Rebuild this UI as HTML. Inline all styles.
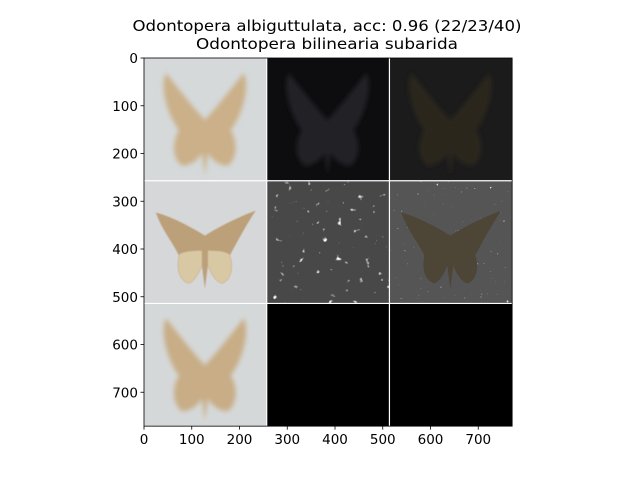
<!DOCTYPE html>
<html><head><meta charset="utf-8"><style>
body{margin:0;background:#fff;}
svg text{font-family:"DejaVu Sans","Liberation Sans",sans-serif;}
</style></head><body>
<svg id="chart" width="640" height="480" viewBox="0 0 640 480">
<defs>
<filter id="blur3" x="-20%" y="-20%" width="140%" height="140%"><feGaussianBlur stdDeviation="2.5"/></filter>
<filter id="blur1"><feGaussianBlur stdDeviation="0.6"/></filter>
<filter id="noise2" x="0" y="0" width="100%" height="100%"><feTurbulence type="fractalNoise" baseFrequency="0.14" numOctaves="2" seed="7"/><feColorMatrix type="matrix" values="0 0 0 0 1  0 0 0 0 1  0 0 0 0 1  7 0 0 0 -4.9"/></filter>
<filter id="noise3" x="0" y="0" width="100%" height="100%"><feTurbulence type="fractalNoise" baseFrequency="0.3" numOctaves="2" seed="11"/><feColorMatrix type="matrix" values="0 0 0 0 0.9  0 0 0 0 0.9  0 0 0 0 0.9  8 0 0 0 -6.2"/></filter>
</defs>
<text x="327" y="31" text-anchor="middle" font-size="15.5" textLength="389" lengthAdjust="spacingAndGlyphs">Odontopera albiguttulata, acc: 0.96 (22/23/40)</text>
<text x="327" y="49" text-anchor="middle" font-size="15.5" textLength="262" lengthAdjust="spacingAndGlyphs">Odontopera bilinearia subarida</text>
<g id="cells"></g>
<g id="axes"></g>
</svg>
<script>
const xTicks=[0,100,200,300,400,500,600,700];
const yTicks=[0,100,200,300,400,500,600,700];
const extent=[0,771];
const cellSize=257;
const svg=document.getElementById('chart');
const NS='http://www.w3.org/2000/svg';
const L=144,T=58,S=0.4775;
const sx=v=>L+v*S, sy=v=>T+v*S;
function el(tag,attrs,parent){const e=document.createElementNS(NS,tag);for(const k in attrs)e.setAttribute(k,attrs[k]);parent.appendChild(e);return e;}
const cells=document.getElementById('cells');
const W=cellSize*S;
function cell(c,r){return [sx(c*cellSize),sy(r*cellSize)];}
function P(x,y,s,pts){return pts.map(p=>typeof p==='string'?p:((x+p[0]*s).toFixed(1)+','+(y+p[1]*s).toFixed(1))).join(' ');}
function mothBlur(x,y,w){const s=w/123;return 'M'+P(x,y,s,[[61,62],'C',[45,45],[28,22],[22,15],'C',[15,30],[25,60],[35,72],'C',[28,85],[28,100],[38,108],'C',[48,108],[56,100],[58,95],'L',[61,118],'L',[64,95],'C',[66,100],[74,108],[84,108],'C',[94,100],[94,85],[87,72],'C',[97,60],[107,30],[100,15],'C',[94,22],[77,45],[61,62]])+'Z';}
function mothReal(x,y,w){const s=w/123;return 'M'+P(x,y,s,[[61,55],'C',[45,45],[25,35],[12,32],'C',[18,50],[28,60],[35,75],'C',[32,90],[36,100],[45,103],'C',[52,100],[56,90],[58,85],'L',[61,108],'L',[64,85],'C',[66,90],[70,100],[78,103],'C',[88,100],[90,85],[86,75],'C',[94,60],[102,45],[112,30],'C',[98,35],[77,45],[61,55]])+'Z';}
function hind(x,y,w){const s=w/123;return 'M'+P(x,y,s,[[58,70],'C',[45,70],[35,72],[35,75],'C',[32,90],[36,100],[45,103],'C',[52,100],[56,90],[58,85],'Z','M',[64,70],'C',[77,70],[86,72],[86,75],'C',[90,85],[88,100],[78,103],'C',[70,100],[66,90],[64,85]])+'Z';}
let x,y,e;
[x,y]=cell(0,0);
e=el('rect',{x,y,width:W,height:W,fill:'#d5d9da'},cells);
e=el('path',{d:mothBlur(x,y,W),fill:'#cbb089',filter:'url(#blur3)'},cells);
[x,y]=cell(1,0);
e=el('rect',{x,y,width:W,height:W,fill:'#0d0d0f'},cells);
e=el('path',{d:mothBlur(x,y,W),fill:'#222428',filter:'url(#blur3)'},cells);
[x,y]=cell(2,0);
e=el('rect',{x,y,width:W,height:W,fill:'#1b1b1c'},cells);
e=el('path',{d:mothBlur(x,y,W),fill:'#2b261e',filter:'url(#blur3)'},cells);
[x,y]=cell(0,1);
e=el('rect',{x,y,width:W,height:W,fill:'#d6d7d8'},cells);
e=el('path',{d:mothReal(x,y,W),fill:'#bba07a',filter:'url(#blur1)'},cells);
e=el('path',{d:hind(x,y,W),fill:'#d8c8a4',filter:'url(#blur1)'},cells);
[x,y]=cell(1,1);
e=el('rect',{x,y,width:W,height:W,fill:'#484849'},cells);
e=el('rect',{x,y,width:W,height:W,filter:'url(#noise2)'},cells);
[x,y]=cell(2,1);
e=el('rect',{x,y,width:W,height:W,fill:'#555556'},cells);
e=el('rect',{x,y,width:W,height:W,filter:'url(#noise3)'},cells);
e=el('path',{d:mothReal(x,y,W),fill:'#4d4536'},cells);
[x,y]=cell(0,2);
e=el('rect',{x,y,width:W,height:W,fill:'#d5d8d9'},cells);
e=el('path',{d:mothBlur(x,y,W),fill:'#c8ad86',filter:'url(#blur3)'},cells);
for(const c of [1,2]){[x,y]=cell(c,2);e=el('rect',{x,y,width:W,height:W,fill:'#000'},cells);}
for(const k of [1,2]){
 e=el('line',{x1:sx(k*cellSize),x2:sx(k*cellSize),y1:sy(0),y2:sy(extent[1]),stroke:'#fff','stroke-width':1.2},cells);
 e=el('line',{y1:sy(k*cellSize),y2:sy(k*cellSize),x1:sx(0),x2:sx(extent[1]),stroke:'#fff','stroke-width':1.2},cells);
}
const ax=document.getElementById('axes');
e=el('rect',{x:sx(0),y:sy(0),width:sx(extent[1])-sx(0),height:sy(extent[1])-sy(0),fill:'none',stroke:'#000','stroke-width':0.8},ax);
xTicks.forEach(v=>{const X=sx(v);
 e=el('line',{x1:X,x2:X,y1:sy(extent[1]),y2:sy(extent[1])+3.5,stroke:'#000','stroke-width':0.8},ax);
 e=el('text',{x:X,y:sy(extent[1])+18,'text-anchor':'middle','font-size':13.5},ax);e.textContent=v;});
yTicks.forEach(v=>{const Y=sy(v);
 e=el('line',{x1:sx(0)-3.5,x2:sx(0),y1:Y,y2:Y,stroke:'#000','stroke-width':0.8},ax);
 e=el('text',{x:sx(0)-6,y:Y+5,'text-anchor':'end','font-size':13.5},ax);e.textContent=v;});
</script>
</body></html>
